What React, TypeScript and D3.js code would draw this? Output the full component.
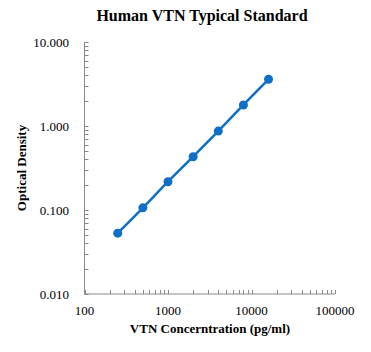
import React, { useEffect, useRef } from 'react';
import * as d3 from 'd3';

const concentrations = [250, 500, 1000, 2000, 4000, 8000, 16000];
const densities = [0.053, 0.106, 0.217, 0.431, 0.87, 1.78, 3.6];
const xTicks = [100, 1000, 10000, 100000];
const yTicks = [0.01, 0.1, 1, 10];

const App = () => {
  const ref = useRef<SVGSVGElement>(null);

  useEffect(() => {
    const width = 371;
    const height = 352;
    const left = 84.5;
    const right = 335;
    const top = 42;
    const bottom = 294;
    const font = '"Liberation Serif", "Times New Roman", serif';
    const blue = '#0F6FC6';
    const axisColor = '#898989';

    const svg = d3.select(ref.current);
    svg.selectAll('*').remove();
    svg.attr('width', width).attr('height', height);

    const x = d3.scaleLog().domain([100, 100000]).range([left, right]);
    const y = d3.scaleLog().domain([0.01, 10]).range([bottom, top]);

    // minor ticks inside the plot
    const minorX: number[] = [];
    const minorY: number[] = [];
    for (let d = 100; d < 100000; d *= 10) {
      for (let k = 2; k <= 9; k++) minorX.push(d * k);
    }
    for (let d = 0.01; d < 10; d *= 10) {
      for (let k = 2; k <= 9; k++) minorY.push(d * k);
    }

    const g = svg.append('g');
    g.append('line')
      .attr('x1', left).attr('x2', left).attr('y1', top).attr('y2', bottom)
      .attr('stroke', axisColor).attr('stroke-width', 1);
    g.append('line')
      .attr('x1', left).attr('x2', right).attr('y1', bottom).attr('y2', bottom)
      .attr('stroke', axisColor).attr('stroke-width', 1);

    g.selectAll('.ytick')
      .data([...yTicks, ...minorY])
      .enter()
      .append('line')
      .attr('x1', left).attr('x2', left + 4)
      .attr('y1', (d) => Math.round(y(d)) + 0.5).attr('y2', (d) => Math.round(y(d)) + 0.5)
      .attr('stroke', axisColor);

    g.selectAll('.xtick')
      .data([...xTicks, ...minorX])
      .enter()
      .append('line')
      .attr('x1', (d) => Math.round(x(d)) + 0.5).attr('x2', (d) => Math.round(x(d)) + 0.5)
      .attr('y1', bottom).attr('y2', bottom - 4)
      .attr('stroke', axisColor);

    g.selectAll('.ylabel')
      .data(yTicks)
      .enter()
      .append('text')
      .attr('x', 69)
      .attr('y', (d) => y(d) + 4.5)
      .attr('text-anchor', 'end')
      .style('font-family', font)
      .style('font-size', '13px')
      .text((d) => d.toFixed(3));

    g.selectAll('.xlabel')
      .data(xTicks)
      .enter()
      .append('text')
      .attr('x', (d) => x(d))
      .attr('y', 315)
      .attr('text-anchor', 'middle')
      .style('font-family', font)
      .style('font-size', '13px')
      .text((d) => String(d));

    svg.append('text')
      .attr('x', 202)
      .attr('y', 21)
      .attr('text-anchor', 'middle')
      .style('font-family', font)
      .style('font-size', '16px')
      .style('font-weight', 'bold')
      .text('Human VTN Typical Standard');

    svg.append('text')
      .attr('x', 210)
      .attr('y', 333)
      .attr('text-anchor', 'middle')
      .style('font-family', font)
      .style('font-size', '13px')
      .style('font-weight', 'bold')
      .text('VTN Concerntration (pg/ml)');

    svg.append('text')
      .attr('transform', `translate(26,${(top + bottom) / 2}) rotate(-90)`)
      .attr('text-anchor', 'middle')
      .style('font-family', font)
      .style('font-size', '13px')
      .style('font-weight', 'bold')
      .text('Optical Density');

    const pts = concentrations.map((c, i) => [c, densities[i]] as [number, number]);
    const line = d3.line<[number, number]>()
      .x((d) => x(d[0]))
      .y((d) => y(d[1]))
      .curve(d3.curveCatmullRom);

    svg.append('path')
      .attr('d', line(pts))
      .attr('fill', 'none')
      .attr('stroke', blue)
      .attr('stroke-width', 2.5);

    svg.selectAll('.pt')
      .data(pts)
      .enter()
      .append('circle')
      .attr('cx', (d) => x(d[0]))
      .attr('cy', (d) => y(d[1]))
      .attr('r', 4.5)
      .attr('fill', blue);
  }, []);

  return <svg ref={ref} style={{ position: 'absolute', left: 0, top: 0 }}></svg>;
};

export default App;
